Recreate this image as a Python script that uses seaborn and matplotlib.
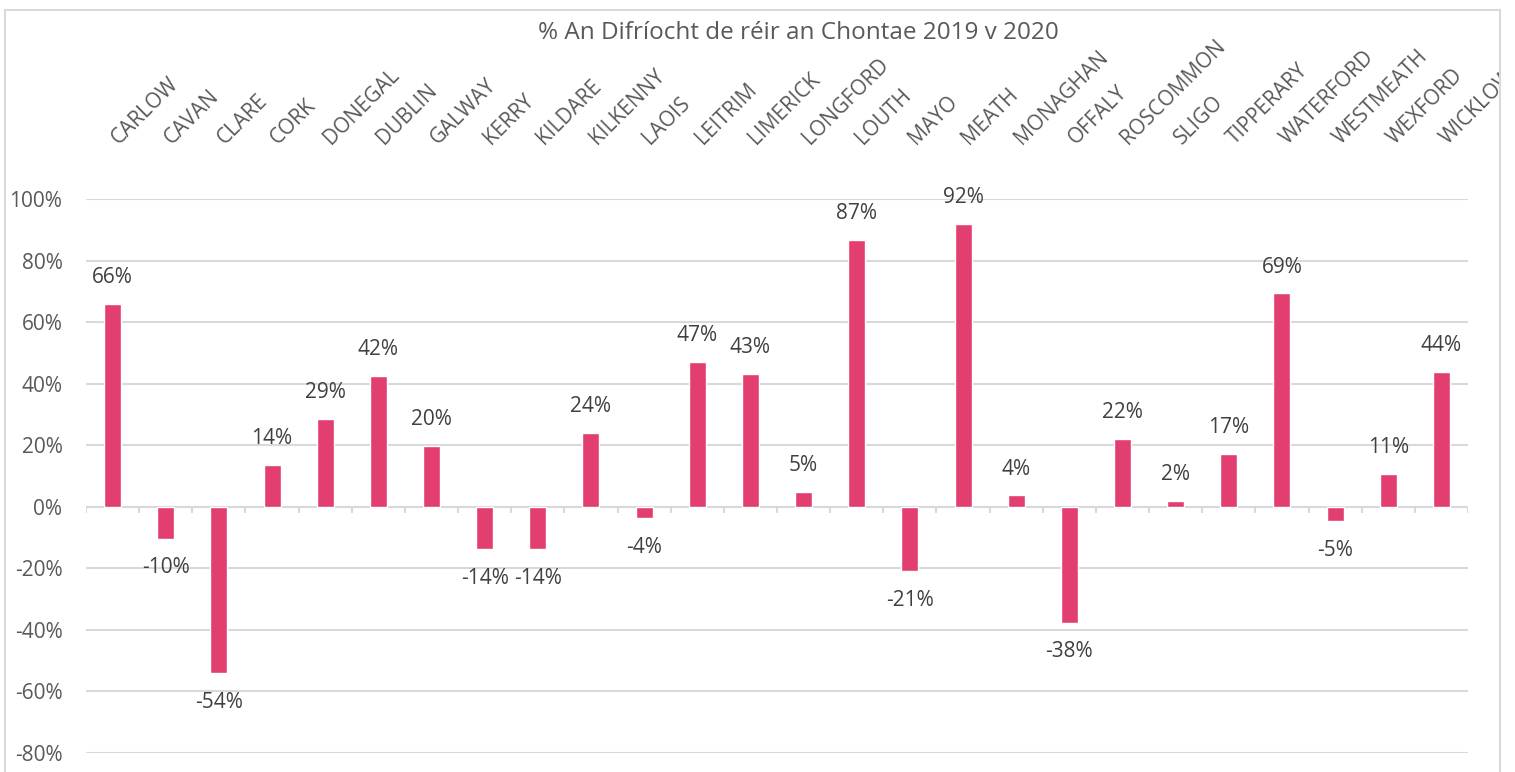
import numpy as np
import matplotlib
matplotlib.use("Agg")
import matplotlib.pyplot as plt
from matplotlib.patches import Rectangle
from matplotlib.transforms import Bbox, TransformedBbox, ScaledTranslation
import seaborn as sns

# % change per county, 2019 v 2020
counties = ["CARLOW", "CAVAN", "CLARE", "CORK", "DONEGAL", "DUBLIN", "GALWAY",
            "KERRY", "KILDARE", "KILKENNY", "LAOIS", "LEITRIM", "LIMERICK",
            "LONGFORD", "LOUTH", "MAYO", "MEATH", "MONAGHAN", "OFFALY",
            "ROSCOMMON", "SLIGO", "TIPPERARY", "WATERFORD", "WESTMEATH",
            "WEXFORD", "WICKLOW"]
pct_change = [0.660, -0.104, -0.541, 0.136, 0.286, 0.424, 0.198,
              -0.138, -0.138, 0.241, -0.036, 0.470, 0.432,
              0.048, 0.868, -0.209, 0.920, 0.037, -0.377,
              0.221, 0.019, 0.172, 0.693, -0.046,
              0.106, 0.437]
y_ticks = [-0.8, -0.6, -0.4, -0.2, 0.0, 0.2, 0.4, 0.6, 0.8, 1.0]
title = "% An Difríocht de réir an Chontae 2019 v 2020"

bar_color = "#E33E70"
grid_color = "#D9D9D9"
tick_color = "#595959"
label_color = "#404040"

sns.set_style("white")
plt.rcParams["font.family"] = ["Open Sans", "DejaVu Sans"]

fig = plt.figure(figsize=(15.15, 7.72), dpi=100)
ax = fig.add_axes([86 / 1515, 19 / 772, (1468 - 86) / 1515, (753 - 199) / 772])

sns.barplot(x=counties, y=pct_change, color=bar_color, width=0.32,
            saturation=1, ax=ax, zorder=3)

ax.set_ylim(-0.8, 1.0)
ax.set_xlim(-0.5, len(counties) - 0.5)
ax.set_yticks(y_ticks)
ax.set_yticklabels([f"{t:.0%}" for t in y_ticks], fontsize=15, color=tick_color)
ax.yaxis.grid(True, color=grid_color, lw=1.5, zorder=0)
ax.set_axisbelow(True)
for s in ax.spines.values():
    s.set_visible(False)
ax.tick_params(axis="y", length=0, pad=17)

# category labels on top
ax.set_xticks(range(len(counties)))
ax.set_xticklabels(counties, rotation=45, ha="left", va="baseline",
                   rotation_mode="anchor", fontsize=15, color=tick_color)
ax.tick_params(axis="x", top=True, labeltop=True, bottom=False,
               labelbottom=False, length=0, pad=39)

# zero line with category tick marks
ax.axhline(0, color=grid_color, lw=1.5, zorder=2)
ax.vlines(np.arange(len(counties) + 1) - 0.5, -0.02, 0, color=grid_color,
          lw=1.5, zorder=2)

# data labels
for i, v in enumerate(pct_change):
    off = 19 if v >= 0 else -21
    ax.annotate(f"{v:.0%}", (i, v), xytext=(0, off), textcoords="offset points",
                ha="center", va="center", fontsize=15, color=label_color)

fig.text(798 / 1515, 1 - 33 / 772, title, ha="center", va="center",
         fontsize=17.5, color=tick_color)

# chart border, right edge clips the last label
fig.add_artist(Rectangle((5 / 1515, -0.05), 1495 / 1515, 1.05 - 10 / 772,
                         transform=fig.transFigure, fill=False,
                         edgecolor=grid_color, lw=1.5))
clip = TransformedBbox(Bbox.from_extents(0, 0, 1499 / 1515, 1), fig.transFigure)
shift = ScaledTranslation(6 / 100, 0, fig.dpi_scale_trans)
for lab in ax.get_xticklabels():
    lab.set_transform(lab.get_transform() + shift)
    lab.set_clip_box(clip)
    lab.set_clip_on(True)

fig.savefig("out.png", dpi=100)
